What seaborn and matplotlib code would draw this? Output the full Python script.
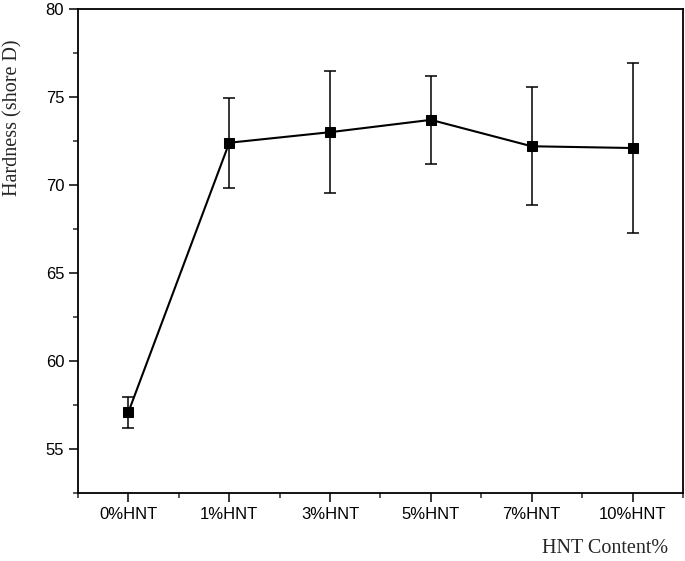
import matplotlib
matplotlib.use('Agg')
import matplotlib.pyplot as plt
import numpy as np
import pandas as pd
import seaborn as sns

# values
content = ['0%HNT', '1%HNT', '3%HNT', '5%HNT', '7%HNT', '10%HNT']
hardness = [57.1, 72.4, 73.0, 73.7, 72.2, 72.1]
hardness_err = [0.88, 2.56, 3.48, 2.5, 3.35, 4.85]

df = pd.DataFrame({'content': content, 'hardness': hardness, 'err': hardness_err})

sns.set_style('ticks')
plt.rcParams['font.family'] = ['Liberation Sans', 'DejaVu Sans']

fig = plt.figure(figsize=(6.85, 5.61), dpi=100)
ax = fig.add_axes([0.1139, 0.1212, 0.8831, 0.8628])

sns.lineplot(data=df, x='content', y='hardness', ax=ax, color='black',
             linewidth=1.5, marker='s', markersize=7, markeredgecolor='black', sort=False)
ax.errorbar(df['content'], df['hardness'], yerr=df['err'], fmt='none',
            ecolor='black', elinewidth=1.1, capsize=4, capthick=1.1)

ax.set_xlim(-0.5, len(content) - 0.5)
ax.set_ylim(52.5, 80)
ax.set_yticks([55, 60, 65, 70, 75, 80])
ax.set_yticks(np.arange(52.5, 80, 5), minor=True)
ax.set_xticks(np.arange(len(content) + 1) - 0.5, minor=True)

for s in ax.spines.values():
    s.set_linewidth(1.3)
    s.set_color('black')
ax.tick_params(which='major', direction='out', length=6.5, width=1.1, labelsize=12, colors='black')
ax.tick_params(which='minor', direction='out', length=3.5, width=1.1)

ax.set_ylabel('Hardness (shore D)', family='Liberation Serif', fontsize=14.5)
ax.set_xlabel('HNT Content%', family='Liberation Serif', fontsize=14.5, ha='right')
ax.yaxis.set_label_coords(-0.092, 0.775)
ax.xaxis.set_label_coords(0.975, -0.095)

fig.savefig('out.png')
